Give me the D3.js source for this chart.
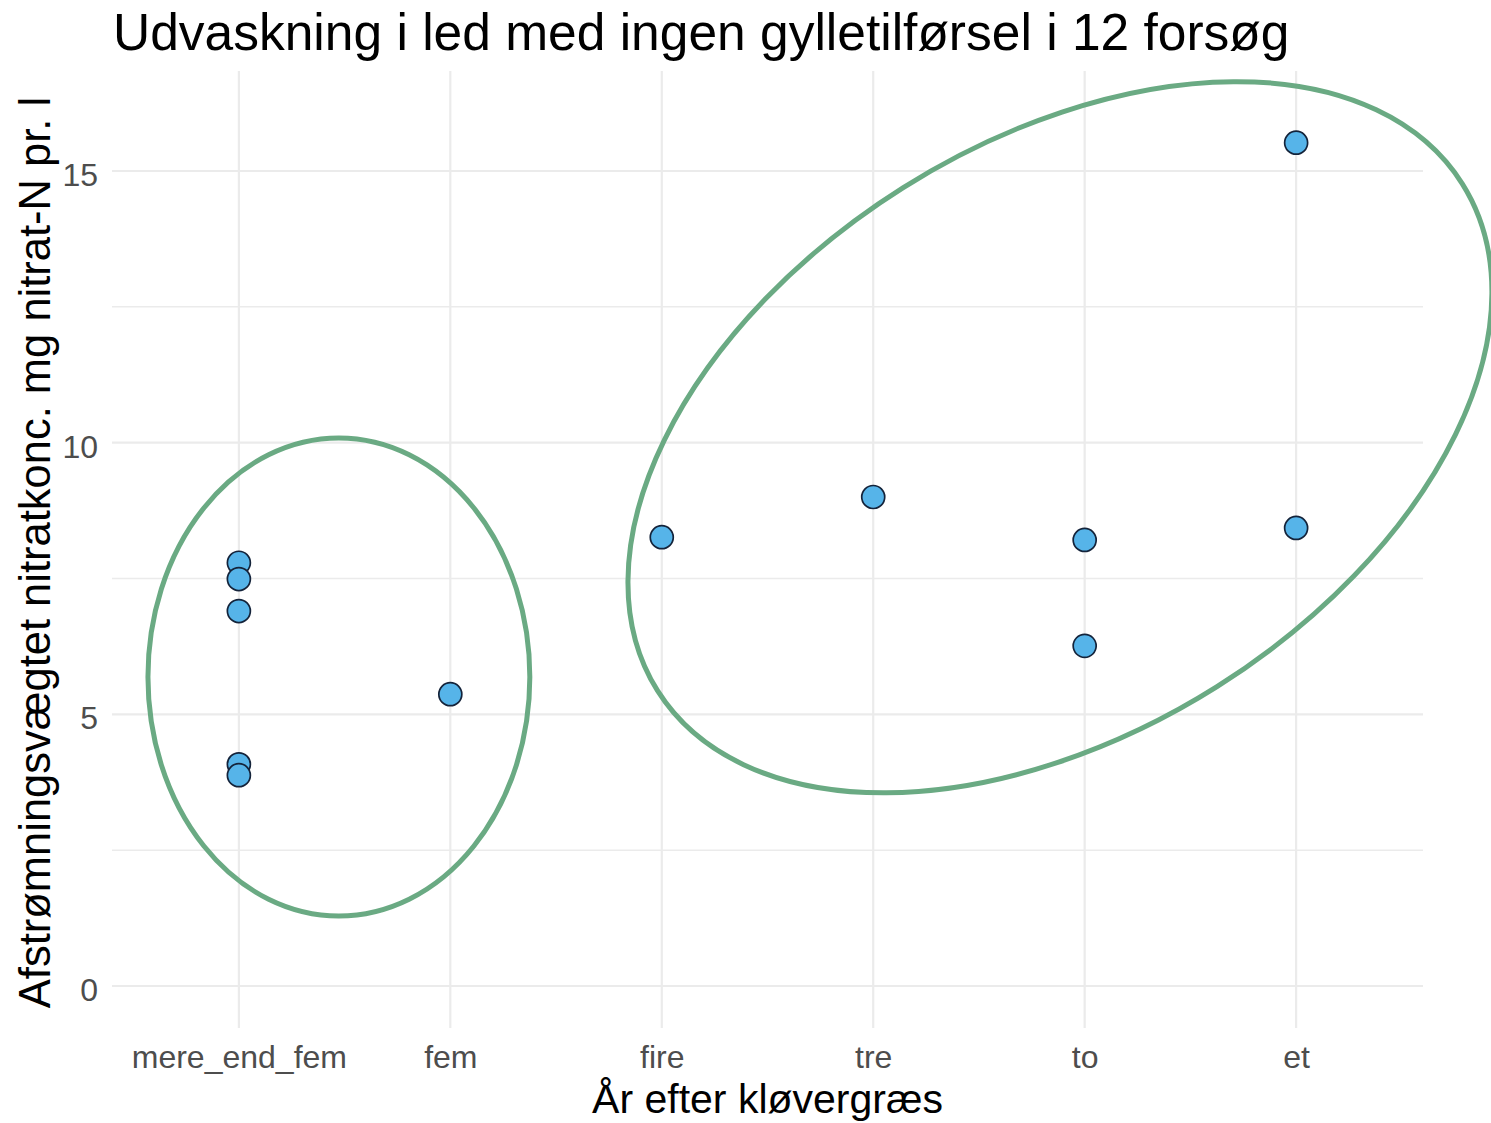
<!DOCTYPE html>
<html>
<head>
<meta charset="utf-8">
<script src="https://cdn.jsdelivr.net/npm/d3@7"></script>
<style>
  html, body { margin: 0; padding: 0; background: #ffffff; }
  svg { display: block; font-family: "Liberation Sans", Arial, sans-serif; }
</style>
</head>
<body>
<svg id="chart" width="1491" height="1123"></svg>
<script>
// ---- Data ----
const categories = ["mere_end_fem", "fem", "fire", "tre", "to", "et"];
const pointCategory = ["mere_end_fem", "mere_end_fem", "mere_end_fem", "mere_end_fem", "mere_end_fem",
                       "fem", "fire", "tre", "to", "to", "et", "et"];
const pointValue = [7.79, 7.49, 6.90, 4.08, 3.88, 5.37, 8.26, 9.00, 8.21, 6.26, 15.52, 8.43];
const yTicks = [0, 5, 10, 15];
const yMinorTicks = [2.5, 7.5, 12.5];

const titleText = "Udvaskning i led med ingen gylletilførsel i 12 forsøg";
const xTitle = "År efter kløvergræs";
const yTitle = "Afstrømningsvægtet nitratkonc. mg nitrat-N pr. l";

// Annotation ellipses (centre in category-index / y units, semi-axes in category steps and y units)
const ellipseCx = [0.473, 3.883];
const ellipseCy = [5.687, 10.10];
const ellipseRx = [0.903, 2.249];   // in category steps
const ellipseRy = [4.399, 1.394];   // first: y units; second: category steps (rotated ellipse)
const ellipseRot = [0, -32.2];

// ---- Layout ----
const svg = d3.select("#chart");
const panel = { left: 112, right: 1423, top: 71, bottom: 1028 };

const x = d3.scalePoint().domain(categories).range([panel.left, panel.right]).padding(0.6);
const y = d3.scaleLinear().domain([-0.773, 16.84]).range([panel.bottom, panel.top]);
const xIdx = d3.scaleLinear().domain([0, categories.length - 1])
  .range([x(categories[0]), x(categories[categories.length - 1])]);
const step = x.step();

const gridColor = "#ebebeb";

// minor horizontal grid
svg.append("g").selectAll("line").data(yMinorTicks).join("line")
  .attr("x1", panel.left).attr("x2", panel.right)
  .attr("y1", d => y(d)).attr("y2", d => y(d))
  .attr("stroke", gridColor).attr("stroke-width", 1.5);

// major horizontal grid
svg.append("g").selectAll("line").data(yTicks).join("line")
  .attr("x1", panel.left).attr("x2", panel.right)
  .attr("y1", d => y(d)).attr("y2", d => y(d))
  .attr("stroke", gridColor).attr("stroke-width", 2.2);

// vertical grid
svg.append("g").selectAll("line").data(categories).join("line")
  .attr("x1", d => x(d)).attr("x2", d => x(d))
  .attr("y1", panel.top).attr("y2", panel.bottom)
  .attr("stroke", gridColor).attr("stroke-width", 2.2);

// axes (labels only, ggplot minimal style)
const xAxis = d3.axisBottom(x).tickSize(0).tickPadding(0);
const gx = svg.append("g").attr("transform", `translate(0,${panel.bottom})`).call(xAxis);
gx.select(".domain").remove();
gx.selectAll("text")
  .attr("y", 40).attr("dy", 0)
  .attr("fill", "#4d4d4d").style("font-size", "32px")
  .style("font-family", '"Liberation Sans", Arial, sans-serif');

const yAxis = d3.axisLeft(y).tickValues(yTicks).tickSize(0).tickPadding(0).tickFormat(d3.format("d"));
const gy = svg.append("g").attr("transform", `translate(${panel.left - 14},0)`).call(yAxis);
gy.select(".domain").remove();
gy.selectAll("text")
  .attr("x", 0).attr("dy", "0.45em")
  .attr("fill", "#4d4d4d").style("font-size", "32px")
  .style("font-family", '"Liberation Sans", Arial, sans-serif');

// points
const pts = pointValue.map((v, i) => ({ c: pointCategory[i], v }));
svg.append("g").selectAll("circle").data(pts).join("circle")
  .attr("cx", d => x(d.c)).attr("cy", d => y(d.v))
  .attr("r", 11.5)
  .attr("fill", "#56B4E9").attr("stroke", "#14233a").attr("stroke-width", 1.7);

// ellipses
const pxPerY = y(0) - y(1);
const eg = svg.append("g");
// left ellipse (axis-aligned)
eg.append("ellipse")
  .attr("cx", xIdx(ellipseCx[0])).attr("cy", y(ellipseCy[0]))
  .attr("rx", ellipseRx[0] * step).attr("ry", ellipseRy[0] * pxPerY)
  .attr("fill", "none").attr("stroke", "#6aaa83").attr("stroke-width", 5);
// right ellipse (rotated)
eg.append("ellipse")
  .attr("cx", 0).attr("cy", 0)
  .attr("rx", ellipseRx[1] * step).attr("ry", ellipseRy[1] * step)
  .attr("transform", `translate(${xIdx(ellipseCx[1])},${y(ellipseCy[1])}) rotate(${ellipseRot[1]})`)
  .attr("fill", "none").attr("stroke", "#6aaa83").attr("stroke-width", 5);

// titles
svg.append("text").attr("x", panel.left + 1).attr("y", 50)
  .attr("fill", "#000").style("font-size", "51.5px").text(titleText);

svg.append("text").attr("x", (panel.left + panel.right) / 2).attr("y", 1113)
  .attr("text-anchor", "middle").attr("fill", "#000").style("font-size", "41px").text(xTitle);

svg.append("text")
  .attr("transform", `translate(50,${(panel.top + panel.bottom) / 2 + 3}) rotate(-90)`)
  .attr("text-anchor", "middle").attr("fill", "#000").style("font-size", "43.5px").text(yTitle);
</script>
</body>
</html>
